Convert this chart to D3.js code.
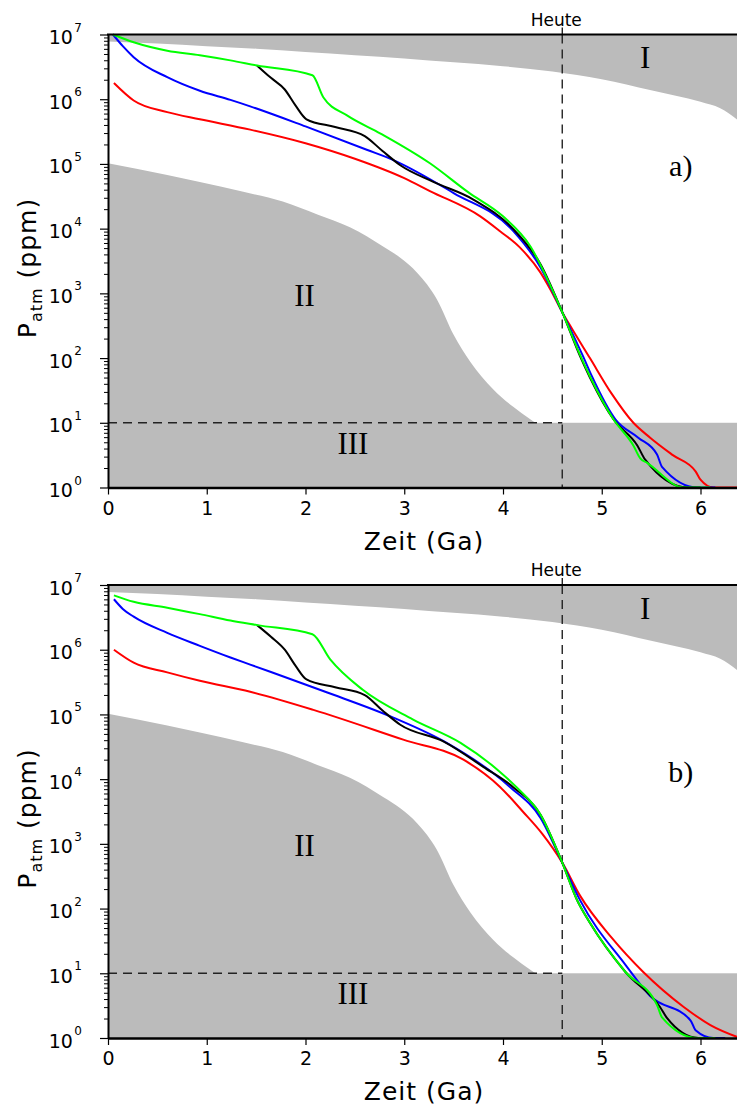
<!DOCTYPE html>
<html>
<head>
<meta charset="utf-8">
<script src="https://cdn.jsdelivr.net/npm/d3@7"></script>
<style>
  body { margin: 0; background: #fff; }
  svg text { font-family: "DejaVu Sans", sans-serif; fill: #000; }
  .roman { font-family: "Liberation Serif", "DejaVu Serif", serif; }
</style>
</head>
<body>
<svg id="chart" width="737" height="1111"></svg>
<script>
// Axis ticks (x in Ga, y as powers of ten in ppm)
const xTicks = [0, 1, 2, 3, 4, 5, 6];
const yExponents = [0, 1, 2, 3, 4, 5, 6, 7];
const xMax = 6.4;
const today = 4.6;          // "Heute"
const limitIII = 10;        // ppm, upper edge of zone III

// Zone boundaries: [time (Ga), log10 ppm]
const zoneI = [[0,6.89],[0.5,6.86],[1.0,6.82],[1.5,6.78],[2.0,6.73],[2.5,6.68],[3.0,6.63],[3.5,6.57],[4.0,6.51],[4.5,6.43],[5.0,6.31],[5.5,6.14],[6.0,5.96],[6.2,5.86],[6.4,5.65]];
const zoneII = [[0,5.01],[0.6,4.83],[0.93,4.72],[1.37,4.57],[1.77,4.42],[2.12,4.22],[2.45,4.02],[2.79,3.72],[2.96,3.55],[3.13,3.32],[3.33,2.91],[3.5,2.36],[3.67,1.94],[3.9,1.52],[4.1,1.25],[4.28,1.05],[4.33,1.0]];

// Panel a) — CO2 pathways, [time (Ga), log10 ppm]
const redA = [[0.06,6.25],[0.26,5.98],[0.6,5.8],[0.93,5.69],[1.44,5.53],[2.0,5.32],[2.5,5.08],[3.0,4.78],[3.26,4.58],[3.77,4.19],[3.97,3.96],[4.17,3.71],[4.38,3.32],[4.48,3.06],[4.6,2.71],[4.7,2.45],[4.88,2.0],[5.1,1.45],[5.32,1.0],[5.49,0.77],[5.72,0.5],[5.95,0.25],[6.0,0.12],[6.13,0.0],[6.45,0.0]];
const blueA = [[0.05,7.0],[0.15,6.82],[0.26,6.65],[0.6,6.34],[0.93,6.13],[1.24,5.99],[1.44,5.89],[2.0,5.58],[2.62,5.22],[2.89,5.06],[3.5,4.55],[4.1,3.97],[4.38,3.4],[4.6,2.71],[4.81,2.03],[4.9,1.72],[5.14,1.05],[5.37,0.77],[5.56,0.51],[5.61,0.32],[5.97,0.0],[6.15,0.0]];
const blackA = [[1.51,6.52],[1.65,6.33],[1.79,6.15],[1.9,5.9],[2.01,5.69],[2.3,5.57],[2.6,5.43],[2.78,5.2],[2.96,4.98],[3.3,4.72],[3.7,4.45],[4.1,4.0],[4.38,3.45],[4.6,2.71],[4.78,2.03],[4.88,1.7],[5.12,1.05],[5.36,0.65],[5.44,0.43],[5.87,0.0],[6.0,0.0]];
const greenA = [[0.05,7.0],[0.26,6.88],[0.6,6.75],[0.93,6.68],[1.24,6.6],[1.51,6.52],[2.07,6.37],[2.18,6.03],[2.42,5.75],[2.76,5.47],[3.26,5.01],[3.65,4.56],[4.0,4.19],[4.28,3.72],[4.48,3.12],[4.6,2.71],[4.78,2.05],[4.88,1.72],[5.12,1.05],[5.32,0.65],[5.39,0.45],[5.46,0.38],[5.83,0.0],[6.1,0.0]];

// Panel b)
const redB = [[0.06,6.0],[0.26,5.8],[0.6,5.65],[0.93,5.52],[1.44,5.35],[2.08,5.07],[2.99,4.61],[3.6,4.3],[3.97,3.88],[4.2,3.5],[4.4,3.15],[4.6,2.71],[4.78,2.2],[5.1,1.55],[5.42,1.02],[5.83,0.48],[6.1,0.2],[6.4,0.0]];
const blueB = [[0.06,6.78],[0.15,6.63],[0.26,6.51],[0.6,6.26],[0.93,6.06],[1.24,5.88],[1.44,5.77],[2.2,5.35],[2.89,4.95],[3.43,4.56],[4.07,3.88],[4.38,3.4],[4.6,2.71],[4.78,2.13],[5.24,1.13],[5.49,0.65],[5.9,0.27],[5.95,0.12],[6.13,0.0],[6.25,0.0]];
const blackB = [[1.51,6.38],[1.65,6.2],[1.79,6.0],[1.9,5.75],[2.01,5.54],[2.3,5.42],[2.6,5.3],[2.78,5.06],[2.96,4.84],[3.4,4.58],[3.8,4.19],[4.1,3.88],[4.38,3.45],[4.6,2.71],[4.75,2.13],[4.88,1.78],[5.24,1.02],[5.59,0.48],[5.66,0.31],[5.98,0.0],[6.1,0.0]];
const greenB = [[0.06,6.84],[0.26,6.74],[0.6,6.65],[0.93,6.55],[1.24,6.45],[1.51,6.38],[2.07,6.24],[2.25,5.85],[2.58,5.38],[3.09,4.92],[3.57,4.56],[3.94,4.15],[4.14,3.87],[4.38,3.45],[4.6,2.71],[4.75,2.13],[4.88,1.78],[5.24,1.02],[5.56,0.51],[5.61,0.32],[5.97,0.0],[6.15,0.0]];

const seriesColors = { red: "#ff0000", blue: "#0000ff", black: "#000000", green: "#00ff00" };

const panels = [
  { top: 34.5, bottom: 487.5, tag: "a)", tagAt: [5.8, 4.82],
    series: [["red", redA], ["blue", blueA], ["black", blackA], ["green", greenA]] },
  { top: 585, bottom: 1038, tag: "b)", tagAt: [5.8, 3.95],
    series: [["red", redB], ["blue", blueB], ["black", blackB], ["green", greenB]] }
];

const svg = d3.select("#chart");
const gray = "#bbbbbb";
const x = d3.scaleLinear().domain([0, xMax]).range([108, 740]);

panels.forEach((p, i) => {
  const y = d3.scaleLog().domain([1, 1e7]).range([p.bottom, p.top]);
  const yv = d => y(Math.pow(10, d[1]));
  const g = svg.append("g");

  const clipId = "clip" + i;
  svg.append("clipPath").attr("id", clipId)
    .append("rect").attr("x", x(0)).attr("y", p.top - 3)
    .attr("width", x(xMax) - x(0)).attr("height", p.bottom - p.top + 4);

  const plot = g.append("g").attr("clip-path", `url(#${clipId})`);

  // Zone I: below the top of the frame
  plot.append("path").datum(zoneI)
    .attr("fill", gray)
    .attr("d", d3.area().x(d => x(d[0])).y0(y(1e7)).y1(yv).curve(d3.curveMonotoneX));
  // Zone III: band between 1 and 10 ppm
  plot.append("rect")
    .attr("x", x(0)).attr("y", y(limitIII))
    .attr("width", x(xMax) - x(0)).attr("height", y(1) - y(limitIII))
    .attr("fill", gray);
  // Zone II
  plot.append("path").datum(zoneII)
    .attr("fill", gray)
    .attr("d", d3.area().x(d => x(d[0])).y0(y(1)).y1(yv).curve(d3.curveMonotoneX));

  // Dashed reference lines
  plot.append("line")
    .attr("x1", x(0)).attr("x2", x(today))
    .attr("y1", y(limitIII)).attr("y2", y(limitIII))
    .attr("stroke", "#222").attr("stroke-width", 1.4).attr("stroke-dasharray", "9,6");
  plot.append("line")
    .attr("x1", x(today)).attr("x2", x(today))
    .attr("y1", y(1e7)).attr("y2", y(1))
    .attr("stroke", "#222").attr("stroke-width", 1.4).attr("stroke-dasharray", "9,6");

  // Pathways
  const line = d3.line().x(d => x(d[0])).y(yv).curve(d3.curveMonotoneX);
  p.series.forEach(([c, data]) => {
    plot.append("path").datum(data)
      .attr("fill", "none")
      .attr("stroke", seriesColors[c])
      .attr("stroke-width", 2)
      .attr("stroke-linejoin", "round")
      .attr("d", line);
  });

  // Zone labels
  const roman = [["I", 5.44, 6.48], ["II", 1.99, 2.81], ["III", 2.48, 0.52]];
  g.selectAll("text.zone").data(roman).join("text")
    .attr("class", "roman")
    .attr("x", d => x(d[1])).attr("y", d => y(Math.pow(10, d[2])))
    .attr("text-anchor", "middle")
    .attr("font-size", 31)
    .text(d => d[0]);
  g.append("text").attr("class", "roman")
    .attr("x", x(p.tagAt[0])).attr("y", y(Math.pow(10, p.tagAt[1])))
    .attr("text-anchor", "middle").attr("font-size", 30)
    .text(p.tag);

  // Frame top
  g.append("line")
    .attr("x1", x(0) - 1).attr("x2", x(xMax))
    .attr("y1", y(1e7)).attr("y2", y(1e7))
    .attr("stroke", "#000").attr("stroke-width", 2);

  // "Heute" marker above the frame
  g.append("line")
    .attr("x1", x(today)).attr("x2", x(today))
    .attr("y1", y(1e7) - 7).attr("y2", y(1e7))
    .attr("stroke", "#000").attr("stroke-width", 1.2);
  g.append("text")
    .attr("x", x(today) - 6).attr("y", y(1e7) - 9)
    .attr("text-anchor", "middle").attr("font-size", 17)
    .text("Heute");

  // Y axis: major ticks with superscript labels
  const yMajor = yExponents.map(e => Math.pow(10, e));
  const yAxisG = g.append("g").attr("transform", `translate(${x(0)},0)`)
    .call(d3.axisLeft(y).tickValues(yMajor).tickSize(8).tickSizeOuter(0).tickFormat(""));
  yAxisG.select(".domain").attr("stroke-width", 2);
  yAxisG.selectAll(".tick line").attr("stroke-width", 1.2);
  yAxisG.selectAll(".tick text").remove();

  const yMinor = [];
  for (let k = 0; k < 7; k++) for (let m = 2; m <= 9; m++) yMinor.push(m * Math.pow(10, k));
  const yMinorG = g.append("g").attr("transform", `translate(${x(0)},0)`)
    .call(d3.axisLeft(y).tickValues(yMinor).tickSize(4).tickSizeOuter(0).tickFormat(""));
  yMinorG.select(".domain").remove();
  yMinorG.selectAll(".tick text").remove();

  const lab = g.selectAll("text.ylab").data(yExponents).join("text")
    .attr("class", "ylab")
    .attr("x", 82).attr("y", e => y(Math.pow(10, e)))
    .attr("text-anchor", "end");
  lab.append("tspan").attr("font-size", 19).attr("dy", 9.5).text("10");
  lab.append("tspan").attr("font-size", 12).attr("dx", 1.5).attr("dy", -12.5).text(e => e);

  // X axis
  const xAxisG = g.append("g").attr("transform", `translate(0,${y(1)})`)
    .call(d3.axisBottom(x).tickValues(xTicks).tickSize(7).tickSizeOuter(0).tickPadding(7).tickFormat(d3.format("d")));
  xAxisG.select(".domain").attr("stroke-width", 2.4);
  xAxisG.selectAll(".tick line").attr("stroke-width", 1.2);
  xAxisG.selectAll(".tick text").attr("font-size", 19).attr("font-family", "DejaVu Sans");

  // Axis titles
  g.append("text")
    .attr("x", (x(0) + x(xMax)) / 2).attr("y", y(1) + 62)
    .attr("text-anchor", "middle").attr("font-size", 25).attr("letter-spacing", 1)
    .text("Zeit (Ga)");

  const yt = g.append("text")
    .attr("transform", `translate(36,${(p.top + p.bottom) / 2 + 7}) rotate(-90)`)
    .attr("text-anchor", "middle").attr("font-size", 25).attr("letter-spacing", 1);
  yt.append("tspan").text("P");
  yt.append("tspan").attr("font-size", 16).attr("dy", 6).text("atm");
  yt.append("tspan").attr("dy", -6).text("\u00a0(ppm)");
});
</script>
</body>
</html>
